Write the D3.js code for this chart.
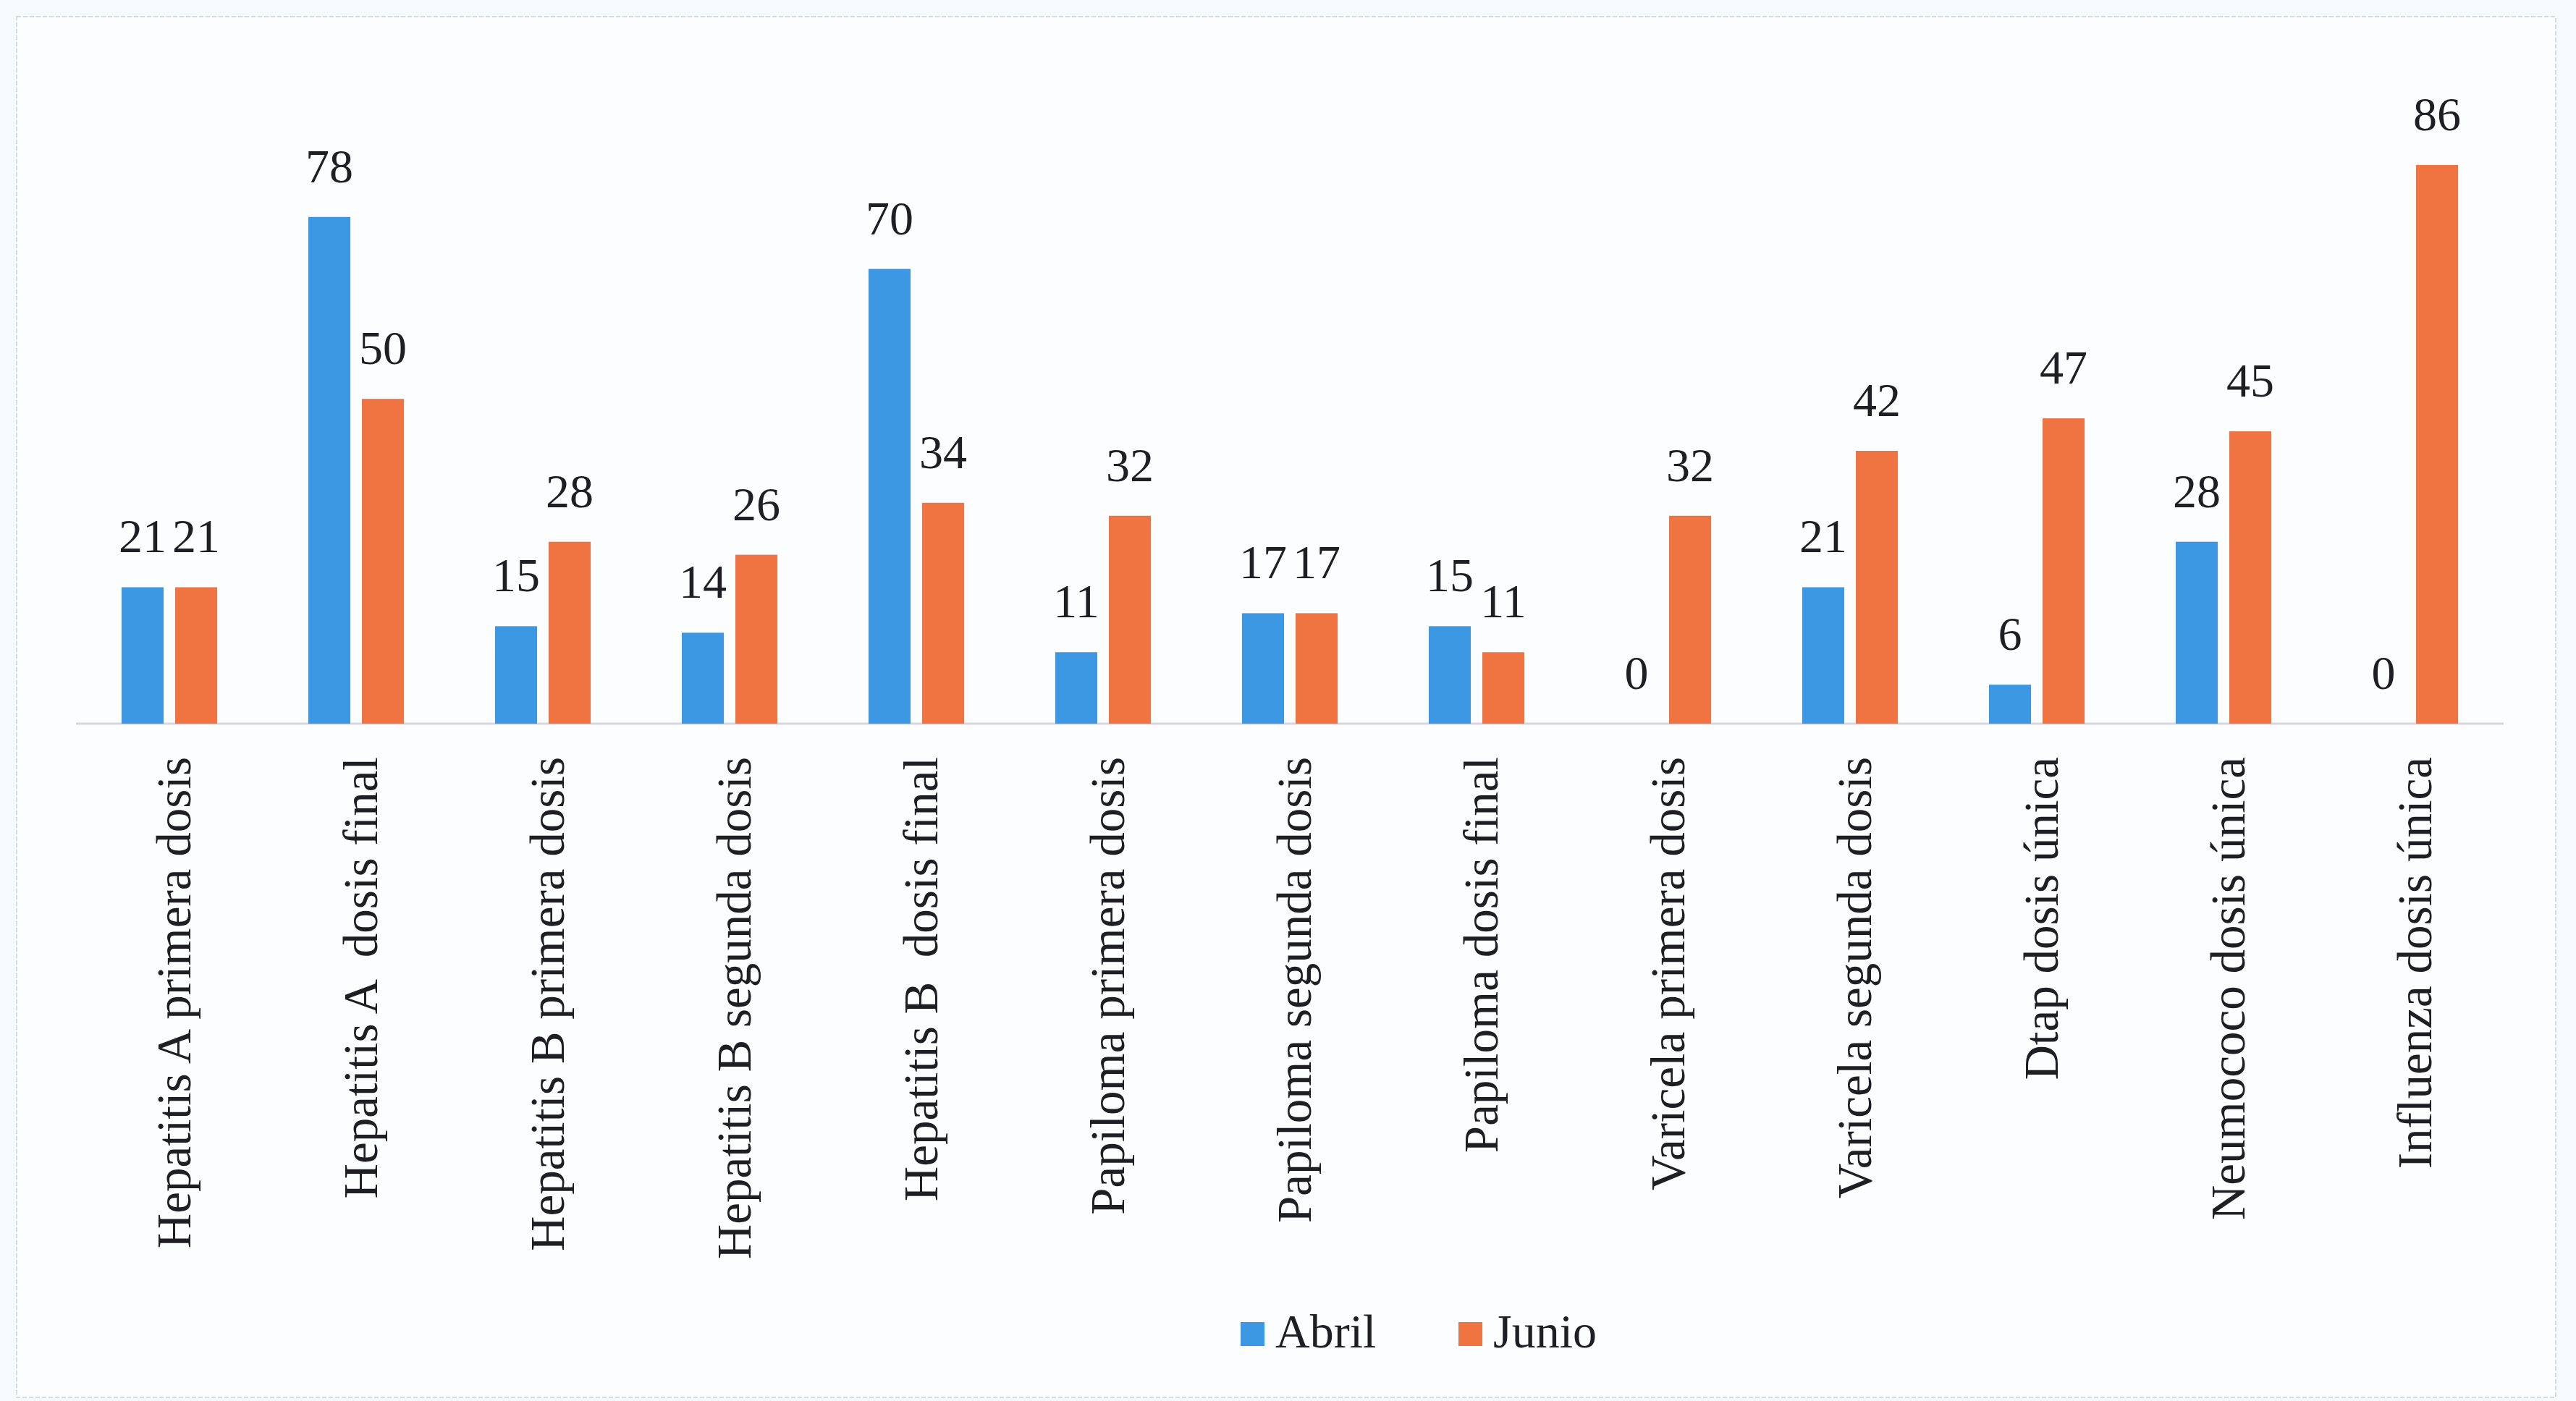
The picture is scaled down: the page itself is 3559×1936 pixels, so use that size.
<!DOCTYPE html>
<html>
<head>
<meta charset="utf-8">
<script src="https://cdn.jsdelivr.net/npm/d3@7"></script>
<style>
  body { margin: 0; background: #f7fafd; }
  text { font-family: "Liberation Serif", "Times New Roman", serif; fill: #1e1e24; }
</style>
</head>
<body>
<div id="plot"></div>
<script>
// data
var categories = [
  "Hepatitis A primera dosis",
  "Hepatitis A  dosis final",
  "Hepatitis B primera dosis",
  "Hepatitis B segunda dosis",
  "Hepatitis B  dosis final",
  "Papiloma primera dosis",
  "Papiloma segunda dosis",
  "Papiloma dosis final",
  "Varicela primera dosis",
  "Varicela segunda dosis",
  "Dtap dosis única",
  "Neumococo dosis única",
  "Influenza dosis única"
];
var series = ["Abril", "Junio"];
var abril = [21, 78, 15, 14, 70, 11, 17, 15, 0, 21, 6, 28, 0];
var junio = [21, 50, 28, 26, 34, 32, 17, 11, 32, 42, 47, 45, 86];
var colors = ["#3c98e2", "#ef7441"];

var W = 3559, H = 1936;
var baseY = 1000;

var svg = d3.select("div#plot")
  .append("svg")
    .attr("width", W)
    .attr("height", H);

// faint frame of the scanned chart
svg.append("rect")
  .attr("x", 23).attr("y", 23)
  .attr("width", 3508).attr("height", 1908)
  .attr("fill", "#fbfdfe")
  .attr("stroke", "#d6dbe3")
  .attr("stroke-width", 2)
  .attr("stroke-dasharray", "6,3");

var x0 = d3.scaleBand().domain(categories).range([105, 3459])
  .paddingInner(0.488).paddingOuter(0.244);
var x1 = d3.scaleBand().domain(series).range([0, x0.bandwidth()])
  .paddingInner(0.216);
var y = d3.scaleLinear().domain([0, 86]).range([baseY, 228]);
var color = d3.scaleOrdinal().domain(series).range(colors);

var rows = categories.map(function(c, i) {
  return {cat: c, vals: [{s: "Abril", v: abril[i]}, {s: "Junio", v: junio[i]}]};
});

// baseline
svg.append("line")
  .attr("x1", 105).attr("x2", 3459)
  .attr("y1", baseY).attr("y2", baseY)
  .attr("stroke", "#d9d5df")
  .attr("stroke-width", 3);

var groups = svg.append("g")
  .selectAll("g")
  .data(rows)
  .enter()
  .append("g")
    .attr("transform", d => "translate(" + x0(d.cat) + ",0)");

groups.selectAll("rect")
  .data(d => d.vals)
  .enter()
  .append("rect")
    .attr("x", d => x1(d.s))
    .attr("y", d => y(d.v))
    .attr("width", x1.bandwidth())
    .attr("height", d => baseY - y(d.v))
    .attr("fill", d => color(d.s));

groups.selectAll("text.val")
  .data(d => d.vals)
  .enter()
  .append("text")
    .attr("class", "val")
    .attr("x", d => x1(d.s) + x1.bandwidth() / 2)
    .attr("y", d => y(d.v) - 48)
    .attr("text-anchor", "middle")
    .attr("font-size", 66)
    .text(d => d.v);

// category labels, rotated
var xAxis = svg.append("g")
  .attr("transform", "translate(0," + baseY + ")")
  .call(d3.axisBottom(x0).tickSize(0).tickPadding(0));
xAxis.select(".domain").remove();
xAxis.selectAll("text")
  .attr("font-size", 67)
  .attr("fill", "#1e1e24")
  .attr("font-family", "Liberation Serif, Times New Roman, serif")
  .style("white-space", "pre")
  .attr("text-anchor", "end")
  .attr("transform", "translate(8,46) rotate(-90)")
  .attr("x", 0)
  .attr("y", 0)
  .attr("dy", "0.32em");

// legend
var legendX = [1714, 2015];
var legend = svg.append("g");
series.forEach(function(s, i) {
  legend.append("rect")
    .attr("x", legendX[i]).attr("y", 1827)
    .attr("width", 33).attr("height", 33)
    .attr("fill", color(s));
  legend.append("text")
    .attr("x", legendX[i] + 48).attr("y", 1862)
    .attr("font-size", 66)
    .text(s);
});
</script>
</body>
</html>
